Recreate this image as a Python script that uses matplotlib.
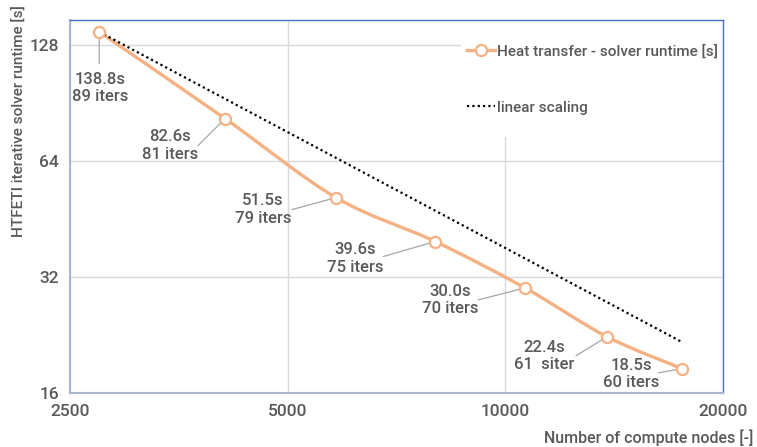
import numpy as np
import matplotlib
matplotlib.use("Agg")
import matplotlib.pyplot as plt
from matplotlib.path import Path
from matplotlib.patches import PathPatch, Rectangle
from matplotlib.lines import Line2D
from matplotlib.ticker import FixedLocator, NullLocator

plt.rcParams['font.family'] = ['Roboto', 'DejaVu Sans']
plt.rcParams['font.weight'] = 500

# %% data
nodes = [2744, 4096, 5832, 8000, 10648, 13824, 17576]
runtime = [138.8, 82.6, 51.5, 39.6, 30.0, 22.4, 18.5]
iters = ["89 iters", "81 iters", "79 iters", "75 iters", "70 iters", "61  siter", "60 iters"]
x_ticks = [2500, 5000, 10000, 20000]
y_ticks = [16, 32, 64, 128]

# linear scaling from the first run
linear = [runtime[0] * nodes[0] / n for n in nodes]

orange = '#F4B183'
gray = '#595959'

# %% figure
fig = plt.figure(figsize=(7.57, 4.47), dpi=100)
ax = fig.add_axes([70 / 757, 54 / 447, 653 / 757, 373 / 447])
ax.set_xscale('log', base=2)
ax.set_yscale('log', base=2)
ax.set_xlim(2500, 20000)
ax.set_ylim(16, 149)

ax.xaxis.set_major_locator(FixedLocator(x_ticks))
ax.yaxis.set_major_locator(FixedLocator(y_ticks))
ax.xaxis.set_minor_locator(NullLocator())
ax.yaxis.set_minor_locator(NullLocator())
ax.set_xticklabels([str(t) for t in x_ticks])
ax.set_yticklabels([str(t) for t in y_ticks])
ax.tick_params(length=0, labelsize=12.5, colors=gray, pad=8)
ax.grid(True, color='#D9D9D9', lw=1)
ax.set_axisbelow(True)
for s in ['top', 'right']:
    ax.spines[s].set_color('#4472C4')
    ax.spines[s].set_linewidth(1)
for s in ['left', 'bottom']:
    ax.spines[s].set_color('#A9B6CF')
    ax.spines[s].set_linewidth(1.5)

# smoothed runtime curve (Catmull-Rom in log space, like Excel smoothing)
lx = np.log2(nodes)
ly = np.log2(runtime)
pts = np.column_stack([lx, ly])
ext = np.vstack([pts[0], pts, pts[-1]])
verts = [pts[0]]
codes = [Path.MOVETO]
for i in range(len(pts) - 1):
    p0, p1, p2, p3 = ext[i], ext[i + 1], ext[i + 2], ext[i + 3]
    c1 = p1 + (p2 - p0) / 6
    c2 = p2 - (p3 - p1) / 6
    verts += [c1, c2, p2]
    codes += [Path.CURVE4] * 3
verts = 2 ** np.array(verts)
ax.add_patch(PathPatch(Path(verts, codes), fill=False, ec=orange, lw=2.4, zorder=3))
ax.plot(nodes, runtime, 'o', ms=8, mfc='white', mec=orange, mew=1.6, zorder=4)

ax.plot(nodes, linear, color='black', lw=1.6, linestyle=(0, (1, 1.4)), zorder=3)

# data labels with leader lines
text_off = [(1, -56), (-55, -27), (-73, -12), (-80, -17), (-75, -12), (-63, -19), (-51, -5)]
lead_off = [(0, -32), (-27, -27), (-44, -12), (-52, -15), (-47, -12), (-31, -19), (-24, -4)]
for n, r, it, to, lo in zip(nodes, runtime, iters, text_off, lead_off):
    ax.annotate(f"{r:.1f}s\n{it}", xy=(n, r), xytext=to, textcoords='offset pixels',
                ha='center', va='center', fontsize=12, color=gray, linespacing=1.2,
                zorder=5)
    ax.annotate('', xy=(n, r), xytext=lo, textcoords='offset pixels',
                arrowprops=dict(arrowstyle='-', color='#A6A6A6', lw=0.9,
                                shrinkA=0, shrinkB=4), zorder=2)

# white legend area hiding the grid, as in the original
ax.add_patch(Rectangle((0.599, 0.686), 0.401, 0.314, transform=ax.transAxes,
                       fc='white', ec='none', zorder=1))
handles = [Line2D([], [], color=orange, lw=2.4, marker='o', ms=8, mfc='white', mec=orange, mew=1.6),
           Line2D([], [], color='black', lw=1.6, linestyle=(0, (1, 1.4)))]
leg = ax.legend(handles, ['Heat transfer - solver runtime [s]', 'linear scaling'],
                loc='upper left', bbox_to_anchor=(0.608, 0.935), frameon=False,
                fontsize=11, labelcolor=gray, labelspacing=2.75, handlelength=1.85,
                handletextpad=0.12, borderpad=0, borderaxespad=0)

fig.text(0.995, 0.02, 'Number of compute nodes [-]', ha='right', va='center', fontsize=11.5, color=gray)
fig.text(0.024, 0.729, 'HTFETI iterative solver runtime [s]', rotation=90, ha='center', va='center',
         fontsize=11, color=gray)

fig.savefig('out.png', dpi=100)
